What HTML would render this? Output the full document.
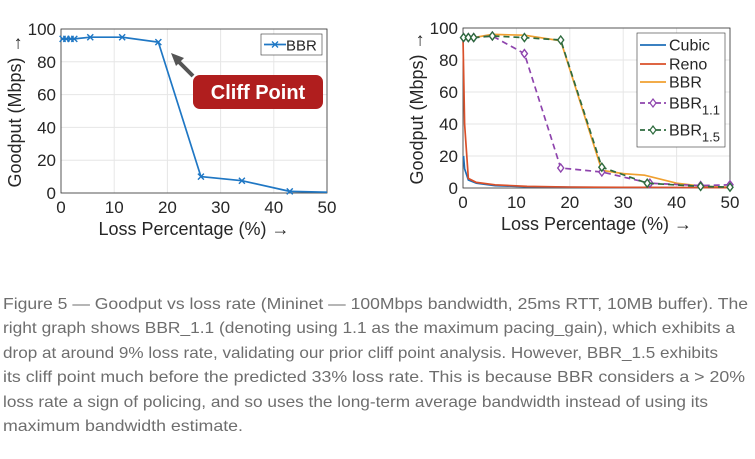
<!DOCTYPE html>
<html><head><meta charset="utf-8"><style>
html,body{margin:0;padding:0;background:#fff;}
svg{display:block;font-family:"Liberation Sans",Arial,sans-serif;}
</style></head><body>
<svg id="fig" width="755" height="459" viewBox="0 0 755 459">
<g id="left"></g>
<g id="right"></g>
<g id="caption" fill="#6e6e6e" font-size="16">
<text x="3" y="309" textLength="745" lengthAdjust="spacingAndGlyphs">Figure 5 — Goodput vs loss rate (Mininet — 100Mbps bandwidth, 25ms RTT, 10MB buffer). The</text>
<text x="3" y="333" textLength="732" lengthAdjust="spacingAndGlyphs">right graph shows BBR_1.1 (denoting using 1.1 as the maximum pacing_gain), which exhibits a</text>
<text x="3" y="358" textLength="715" lengthAdjust="spacingAndGlyphs">drop at around 9% loss rate, validating our prior cliff point analysis. However, BBR_1.5 exhibits</text>
<text x="3" y="382" textLength="742" lengthAdjust="spacingAndGlyphs">its cliff point much before the predicted 33% loss rate. This is because BBR considers a &gt; 20%</text>
<text x="3" y="407" textLength="705" lengthAdjust="spacingAndGlyphs">loss rate a sign of policing, and so uses the long-term average bandwidth instead of using its</text>
<text x="3" y="431" textLength="240" lengthAdjust="spacingAndGlyphs">maximum bandwidth estimate.</text>
</g>
</svg>
<script>
// Left chart data
const leftX = [0.3, 1, 1.8, 2.5, 5.5, 11.5, 18.3, 26.3, 34, 43, 50];
const leftBBR = [94, 94, 94, 94, 95, 95, 92, 10, 7.5, 1, 0.5];
// Right chart data
const cubicX = [0.1, 0.3, 1, 2.5, 6, 12, 20, 30, 40, 50];
const cubicY = [20, 12, 5, 3, 1.5, 0.8, 0.5, 0.3, 0.2, 0.2];
const renoX = [0, 0.3, 1, 2.5, 6, 12, 20, 30, 40, 50];
const renoY = [94, 40, 6, 3.5, 2, 1, 0.6, 0.4, 0.3, 0.2];
const bbrX = [0.1, 1, 2, 5.5, 11.5, 18.3, 26, 30, 34, 40, 45, 50];
const bbrY = [94, 94, 94, 96, 95.5, 92, 11, 9, 8, 3, 1, 0.5];
const bbr11X = [0.1, 1, 2, 5.5, 11.5, 18.3, 26, 35, 44.5, 50];
const bbr11Y = [94, 94, 94, 95, 84, 12.5, 10, 3, 1.5, 2];
const bbr15X = [0.1, 1, 2, 5.5, 11.5, 18.3, 26, 34.5, 44.5, 50];
const bbr15Y = [94, 94, 94, 95, 94, 92.5, 13, 3, 1, 0.5];
const xTicks = [0, 10, 20, 30, 40, 50];
const yTicks = [0, 20, 40, 60, 80, 100];

const NS = "http://www.w3.org/2000/svg";
function mk(parent, tag, attrs, text) {
  const e = document.createElementNS(NS, tag);
  for (const k in attrs) e.setAttribute(k, attrs[k]);
  if (text !== undefined) e.textContent = text;
  parent.appendChild(e);
  return e;
}
function axes(g, x0, x1, y0, y1) {
  const sx = v => x0 + (v / 50) * (x1 - x0);
  const sy = v => y0 - (v / 100) * (y0 - y1);
  const grid = mk(g, "g", {});
  
  
  xTicks.forEach(t => {
    mk(grid, "line", {x1: sx(t), x2: sx(t), y1: y1, y2: y0, stroke: "#e6e6e6", "stroke-width": 1});
    const lb = mk(g, "text", {x: sx(t), y: y0 + 20, "text-anchor": "middle", "font-size": 17, fill: "#262626"}, t);
    
    
  });
  yTicks.forEach(t => {
    mk(grid, "line", {x1: x0, x2: x1, y1: sy(t), y2: sy(t), stroke: "#e6e6e6", "stroke-width": 1});
    const lb = mk(g, "text", {x: x0 - 5, y: sy(t) + 6, "text-anchor": "end", "font-size": 17, fill: "#262626"}, t);
    
    
  });
  const box = mk(g, "rect", {x: x0, y: y1, width: x1 - x0, height: y0 - y1, fill: "none", stroke: "#333", "stroke-width": 0.8});
  
  
  const xt = mk(g, "text", {x: (x0 + x1) / 2, y: y0 + 42, "text-anchor": "middle", "font-size": 18, fill: "#262626"}, "Loss Percentage (%) →");
  
  
  const yt = mk(g, "text", {x: 0, y: 0, "text-anchor": "middle", "font-size": 18, fill: "#262626", transform: `translate(${x0 - 40},${(y0 + y1) / 2}) rotate(-90)`}, "Goodput (Mbps) →");
  
  
  return {sx, sy};
}
function series(g, sx, sy, xs, ys, color, dash, marker, name) {
  const s = mk(g, "g", {});
  
  
  const pts = xs.map((x, i) => sx(x) + "," + sy(ys[i])).join(" ");
  mk(s, "polyline", {points: pts, fill: "none", stroke: color, "stroke-width": 1.7, "stroke-dasharray": dash || "none"});
  xs.forEach((x, i) => {
    const cx = sx(x), cy = sy(ys[i]);
    let m;
    if (marker === "x") {
      m = mk(s, "path", {d: `M${cx-3},${cy-3}L${cx+3},${cy+3}M${cx-3},${cy+3}L${cx+3},${cy-3}`, stroke: color, "stroke-width": 1.4});
    } else if (marker === "d") {
      m = mk(s, "path", {d: `M${cx},${cy-4}L${cx+3},${cy}L${cx},${cy+4}L${cx-3},${cy}Z`, stroke: color, fill: "#fff", "stroke-width": 1.4});
    } else return;
    
    
  });
}

// Left
const L = document.getElementById("left");
const la = axes(L, 61, 327, 193, 29);
series(L, la.sx, la.sy, leftX.slice(0, -1), leftBBR.slice(0, -1), "#1f77c4", null, "x", "bbr-series");
mk(L, "polyline", {points: [9, 10].map(i => la.sx(leftX[i]) + "," + la.sy(leftBBR[i])).join(" "), fill: "none", stroke: "#1f77c4", "stroke-width": 1.7});
const lleg = mk(L, "g", {});


mk(lleg, "rect", {x: 261, y: 34, width: 61, height: 21, fill: "#fff", stroke: "#333", "stroke-width": 0.6});
mk(lleg, "line", {x1: 264, x2: 286, y1: 44.5, y2: 44.5, stroke: "#1f77c4", "stroke-width": 1.7});
mk(lleg, "path", {d: "M272,41.5L278,47.5M272,47.5L278,41.5", stroke: "#1f77c4", "stroke-width": 1.3});
mk(lleg, "text", {x: 286, y: 50.5, "font-size": 15, fill: "#262626"}, "BBR");
const cliff = mk(L, "g", {});


mk(cliff, "line", {x1: 193, y1: 76, x2: 178, y2: 61, stroke: "#555", "stroke-width": 4});
mk(cliff, "path", {d: "M171,53L184,58L176,66Z", fill: "#555"});
mk(cliff, "rect", {x: 193, y: 75, width: 130, height: 34, rx: 7, fill: "#b01e1e"});
mk(cliff, "text", {x: 258, y: 99, "text-anchor": "middle", "font-size": 20, "font-weight": "bold", fill: "#fff"}, "Cliff Point");

// Right
const R = document.getElementById("right");
const ra = axes(R, 463, 730, 188, 28);
series(R, ra.sx, ra.sy, bbrX, bbrY, "#f0a030", null, null, "bbr-series");
series(R, ra.sx, ra.sy, cubicX, cubicY, "#1f6fb8", null, null, "cubic-series");
series(R, ra.sx, ra.sy, renoX, renoY, "#d9502a", null, null, "reno-series");
series(R, ra.sx, ra.sy, bbr11X, bbr11Y, "#8e44ad", "6,4", "d", "bbr-1.1-series");
series(R, ra.sx, ra.sy, bbr15X, bbr15Y, "#2e6b3e", "6,4", "d", "bbr-1.5-series");
const rleg = mk(R, "g", {});


mk(rleg, "rect", {x: 637, y: 33, width: 88, height: 114, fill: "#fff", stroke: "#333", "stroke-width": 0.6});
const legItems = [["Cubic", "#1f6fb8", null, ""], ["Reno", "#d9502a", null, ""], ["BBR", "#f0a030", null, ""], ["BBR", "#8e44ad", "5,3", "1.1"], ["BBR", "#2e6b3e", "5,3", "1.5"]];
const legY = [45, 64, 82, 103, 130];
legItems.forEach((it, i) => {
  const y = legY[i];
  const e = mk(rleg, "g", {});
  
  
  mk(e, "line", {x1: 640, x2: 666, y1: y, y2: y, stroke: it[1], "stroke-width": 1.7, "stroke-dasharray": it[2] || "none"});
  if (it[3]) mk(e, "path", {d: `M653,${y-4}L656,${y}L653,${y+4}L650,${y}Z`, stroke: it[1], fill: "#fff", "stroke-width": 1.2});
  const t = mk(e, "text", {x: 669, y: y + 5.5, "font-size": 16, fill: "#262626"}, it[0]);
  if (it[3]) mk(t, "tspan", {dy: 6, "font-size": 13}, it[3]);
});
</script>
</body></html>
